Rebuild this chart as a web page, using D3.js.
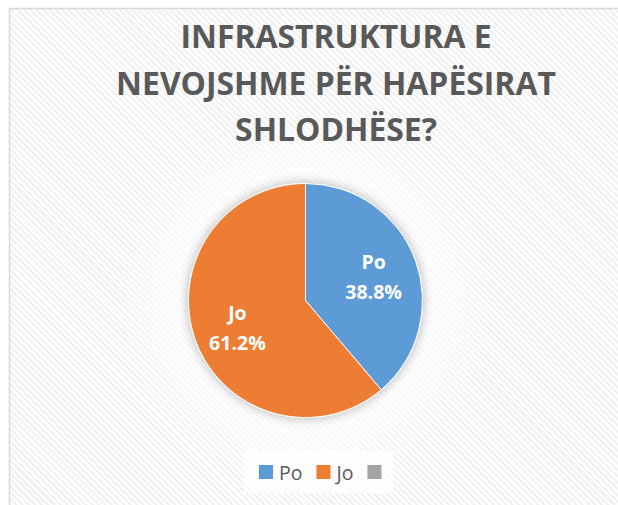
<!DOCTYPE html>
<html>
<head>
<meta charset="utf-8">
<title>Infrastruktura pie</title>
<script src="https://d3js.org/d3.v7.min.js"></script>
<style>
	body{margin:0;background:#fff}
	text{font-family:'Open Sans',sans-serif}
</style>
</head>
<body>
<div class="chart"></div>
<script>
const categories = ['Po', 'Jo', ''];
const values = [38.8, 61.2, 0];
const colors = ['#5B9BD5', '#ED7D31', '#A5A5A5'];
const titleLines = ['INFRASTRUKTURA E', 'NEVOJSHME PËR HAPËSIRAT', 'SHLODHËSE?'];

const width = 618, height = 505;
const cx = 305.5, cy = 300.5, radius = 117;

const svg = d3.select('.chart').append('svg')
	.attr('width', width).attr('height', height);
const defs = svg.append('defs');

// light diagonal stripes like the Excel chart fill
const pat = defs.append('pattern')
	.attr('id', 'stripes')
	.attr('patternUnits', 'userSpaceOnUse')
	.attr('width', 4.5).attr('height', 4.5)
	.attr('patternTransform', 'rotate(-45)');
pat.append('rect').attr('width', 4.5).attr('height', 4.5).attr('fill', '#fff');
pat.append('rect').attr('width', 2).attr('height', 4.5).attr('fill', '#efefef');

const glow = defs.append('radialGradient').attr('id', 'glow');
glow.append('stop').attr('offset', '55%').attr('stop-color', '#fff').attr('stop-opacity', 1);
glow.append('stop').attr('offset', '100%').attr('stop-color', '#fff').attr('stop-opacity', 0);

defs.append('filter').attr('id', 'shadow')
	.attr('x', '-30%').attr('y', '-30%').attr('width', '160%').attr('height', '160%')
	.append('feDropShadow')
	.attr('dx', 0).attr('dy', 0).attr('stdDeviation', 6)
	.attr('flood-color', '#000').attr('flood-opacity', 0.3);

svg.append('rect')
	.attr('x', 9.5).attr('y', 8.5)
	.attr('width', 700).attr('height', 600)
	.attr('fill', 'url(#stripes)')
	.attr('stroke', '#d9d9d9').attr('stroke-width', 1.5);

svg.append('circle')
	.attr('cx', cx).attr('cy', cy).attr('r', 185)
	.attr('fill', 'url(#glow)');

// title
const title = svg.append('g').attr('transform', 'translate(336,0)');
const tl = title.selectAll('text').data(titleLines).join('text')
	.attr('x', 0)
	.attr('y', (d, i) => 48.5 + i * 46.2)
	.attr('text-anchor', 'middle')
	.attr('font-size', 31.5)
	.attr('font-weight', 'bold')
	.attr('fill', '#595959')
	.text(d => d);
const tScale = 440 / tl.nodes()[1].getComputedTextLength();
title.attr('transform', `translate(336,0) scale(${tScale},1)`);

// pie
const pie = d3.pie().sort(null).value(d => d.value);
const arcs = pie(categories.map((c, i) => ({cat: c, value: values[i], color: colors[i]})));
const arc = d3.arc().innerRadius(0).outerRadius(radius);
const labelArc = d3.arc().innerRadius(radius * 0.62).outerRadius(radius * 0.62);

const g = svg.append('g').attr('transform', `translate(${cx},${cy})`);
g.append('g').attr('filter', 'url(#shadow)')
	.selectAll('path').data(arcs.filter(d => d.value > 0)).join('path')
	.attr('d', arc)
	.attr('fill', d => d.data.color)
	.attr('stroke', '#fff').attr('stroke-width', 1);

const labels = g.selectAll('g.lab').data(arcs.filter(d => d.value > 0)).join('g')
	.attr('class', 'lab')
	.attr('transform', d => `translate(${labelArc.centroid(d)})`);
labels.append('text').attr('y', -6).text(d => d.data.cat);
labels.append('text').attr('y', 24).text(d => d.data.value.toFixed(1) + '%');
labels.selectAll('text')
	.attr('text-anchor', 'middle')
	.attr('font-size', 19.5)
	.attr('font-weight', 'bold')
	.attr('fill', '#fff');

// legend
const legend = svg.append('g');
legend.append('rect')
	.attr('x', 244).attr('y', 450).attr('width', 149).attr('height', 43)
	.attr('fill', '#fff').attr('opacity', 0.75);
let lx = 259;
categories.forEach((c, i) => {
	legend.append('rect')
		.attr('x', lx).attr('y', 465).attr('width', 14).attr('height', 14)
		.attr('fill', colors[i]);
	lx += 20;
	if (c) {
		const t = legend.append('text')
			.attr('x', lx).attr('y', 479.5)
			.attr('font-size', 19.5)
			.attr('fill', '#595959')
			.text(c);
		lx += t.node().getComputedTextLength() + 14;
	}
});
</script>
</body>
</html>
